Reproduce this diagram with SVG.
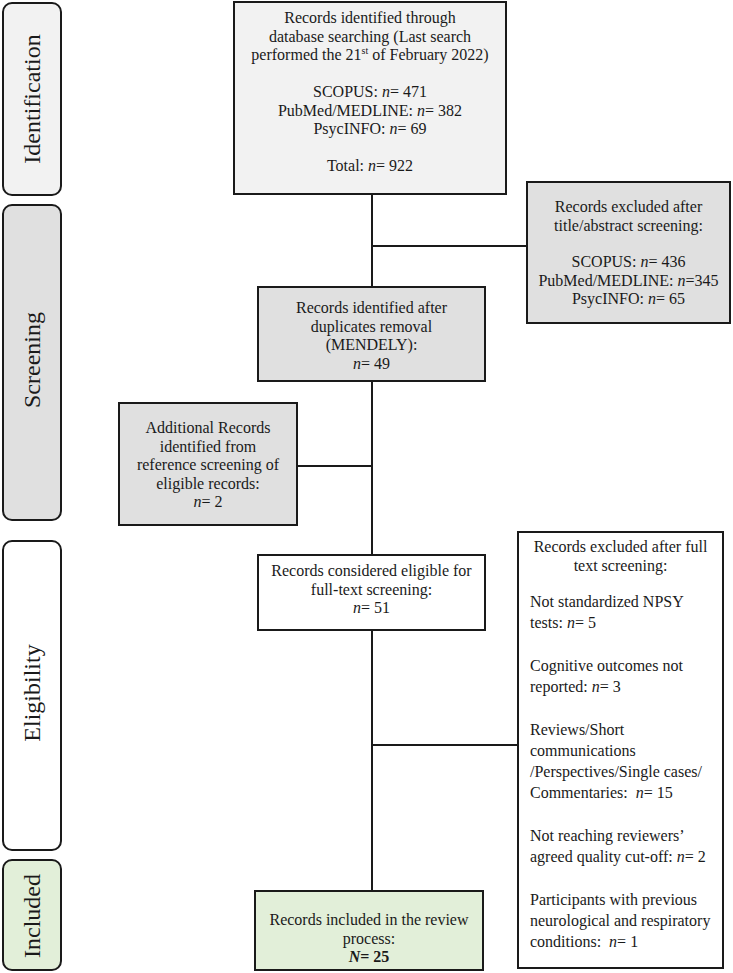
<svg xmlns="http://www.w3.org/2000/svg" width="733" height="973" viewBox="0 0 733 973">
<style>
text{font-family:"Liberation Serif","Times New Roman",serif;font-size:16px;fill:#1a1a1a}
.c{text-anchor:middle}
.side{font-size:24px;text-anchor:middle}
.i{font-style:italic}
.box{stroke:#1a1a1a;stroke-width:2}
.phase{stroke:#1a1a1a;stroke-width:2}
.g1{fill:#f2f2f2}
.g2{fill:#e0e0e0}
.w{fill:#ffffff}
.gr{fill:#e2efd9}
.ln{stroke:#1a1a1a;stroke-width:2;fill:none}
</style>
<rect width="733" height="973" fill="#ffffff"/>
<g id="phase-identification">
<rect class="phase g1" x="3" y="3" width="58" height="192" rx="9"/>
<text class="side" transform="translate(40,99) rotate(-90)">Identification</text>
</g>
<g id="phase-screening">
<rect class="phase g2" x="3" y="205" width="58" height="315" rx="9"/>
<text class="side" transform="translate(40,360) rotate(-90)">Screening</text>
</g>
<g id="phase-eligibility">
<rect class="phase w" x="3" y="541" width="58" height="309" rx="9"/>
<text class="side" transform="translate(40,693) rotate(-90)">Eligibility</text>
</g>
<g id="phase-included">
<rect class="phase gr" x="3" y="860" width="58" height="110" rx="9"/>
<text class="side" transform="translate(40,916) rotate(-90)">Included</text>
</g>
<g id="connectors">
<line class="ln" x1="372" y1="195" x2="372" y2="891"/>
<line class="ln" x1="372" y1="246" x2="527" y2="246"/>
<line class="ln" x1="297" y1="466" x2="372" y2="466"/>
<line class="ln" x1="372" y1="745" x2="518" y2="745"/>
</g>
<g id="n-identified">
<rect class="box g1" x="234" y="2" width="272" height="192"/>
<text class="c" x="370" y="23">Records identified through</text>
<text class="c" x="370" y="41.5">database searching (Last search</text>
<text class="c" x="370" y="60">performed the 21<tspan font-size="10" dy="-6">st</tspan><tspan dy="6"> of February 2022)</tspan></text>
<text class="c" x="370" y="97">SCOPUS: <tspan class="i">n</tspan>= 471</text>
<text class="c" x="370" y="115.5">PubMed/MEDLINE: <tspan class="i">n</tspan>= 382</text>
<text class="c" x="370" y="134">PsycINFO: <tspan class="i">n</tspan>= 69</text>
<text class="c" x="370" y="171">Total: <tspan class="i">n</tspan>= 922</text>
</g>
<g id="n-excluded-title">
<rect class="box g2" x="527" y="182" width="203" height="141"/>
<text class="c" x="628.5" y="212">Records excluded after</text>
<text class="c" x="628.5" y="230.5">title/abstract screening:</text>
<text class="c" x="628.5" y="267">SCOPUS: <tspan class="i">n</tspan>= 436</text>
<text class="c" x="628.5" y="285.5">PubMed/MEDLINE: <tspan class="i">n</tspan>=345</text>
<text class="c" x="628.5" y="304">PsycINFO: <tspan class="i">n</tspan>= 65</text>
</g>
<g id="n-duplicates">
<rect class="box g2" x="258" y="287" width="227" height="94"/>
<text class="c" x="371.5" y="313">Records identified after</text>
<text class="c" x="371.5" y="331.5">duplicates removal</text>
<text class="c" x="371.5" y="350">(MENDELY):</text>
<text class="c" x="371.5" y="368.5"><tspan class="i">n</tspan>= 49</text>
</g>
<g id="n-additional">
<rect class="box g2" x="119" y="403" width="178" height="122"/>
<text class="c" x="208" y="433">Additional Records</text>
<text class="c" x="208" y="451.5">identified from</text>
<text class="c" x="208" y="470">reference screening of</text>
<text class="c" x="208" y="488.5">eligible records:</text>
<text class="c" x="208" y="507"><tspan class="i">n</tspan>= 2</text>
</g>
<g id="n-eligible">
<rect class="box w" x="258" y="555" width="227" height="75"/>
<text class="c" x="371.5" y="576">Records considered eligible for</text>
<text class="c" x="371.5" y="594.5">full-text screening:</text>
<text class="c" x="371.5" y="613"><tspan class="i">n</tspan>= 51</text>
</g>
<g id="n-excluded-full">
<rect class="box w" x="518" y="532" width="205" height="436"/>
<text class="c" x="620.5" y="552">Records excluded after full</text>
<text class="c" x="620.5" y="570.5">text screening:</text>
<text x="530" y="607">Not standardized NPSY</text>
<text x="530" y="628">tests: <tspan class="i">n</tspan>= 5</text>
<text x="530" y="671">Cognitive outcomes not</text>
<text x="530" y="692">reported: <tspan class="i">n</tspan>= 3</text>
<text x="530" y="735">Reviews/Short</text>
<text x="530" y="756">communications</text>
<text x="530" y="777">/Perspectives/Single cases/</text>
<text x="530" y="798">Commentaries:&#160; <tspan class="i">n</tspan>= 15</text>
<text x="530" y="841">Not reaching reviewers’</text>
<text x="530" y="862">agreed quality cut-off: <tspan class="i">n</tspan>= 2</text>
<text x="530" y="905">Participants with previous</text>
<text x="530" y="926">neurological and respiratory</text>
<text x="530" y="947">conditions:&#160; <tspan class="i">n</tspan>= 1</text>
</g>
<g id="n-included">
<rect class="box gr" x="255" y="891" width="228" height="79"/>
<text class="c" x="369" y="925">Records included in the review</text>
<text class="c" x="369" y="943.5">process:</text>
<text class="c" x="369" y="962" font-weight="bold"><tspan class="i">N</tspan>= 25</text>
</g>
</svg>
